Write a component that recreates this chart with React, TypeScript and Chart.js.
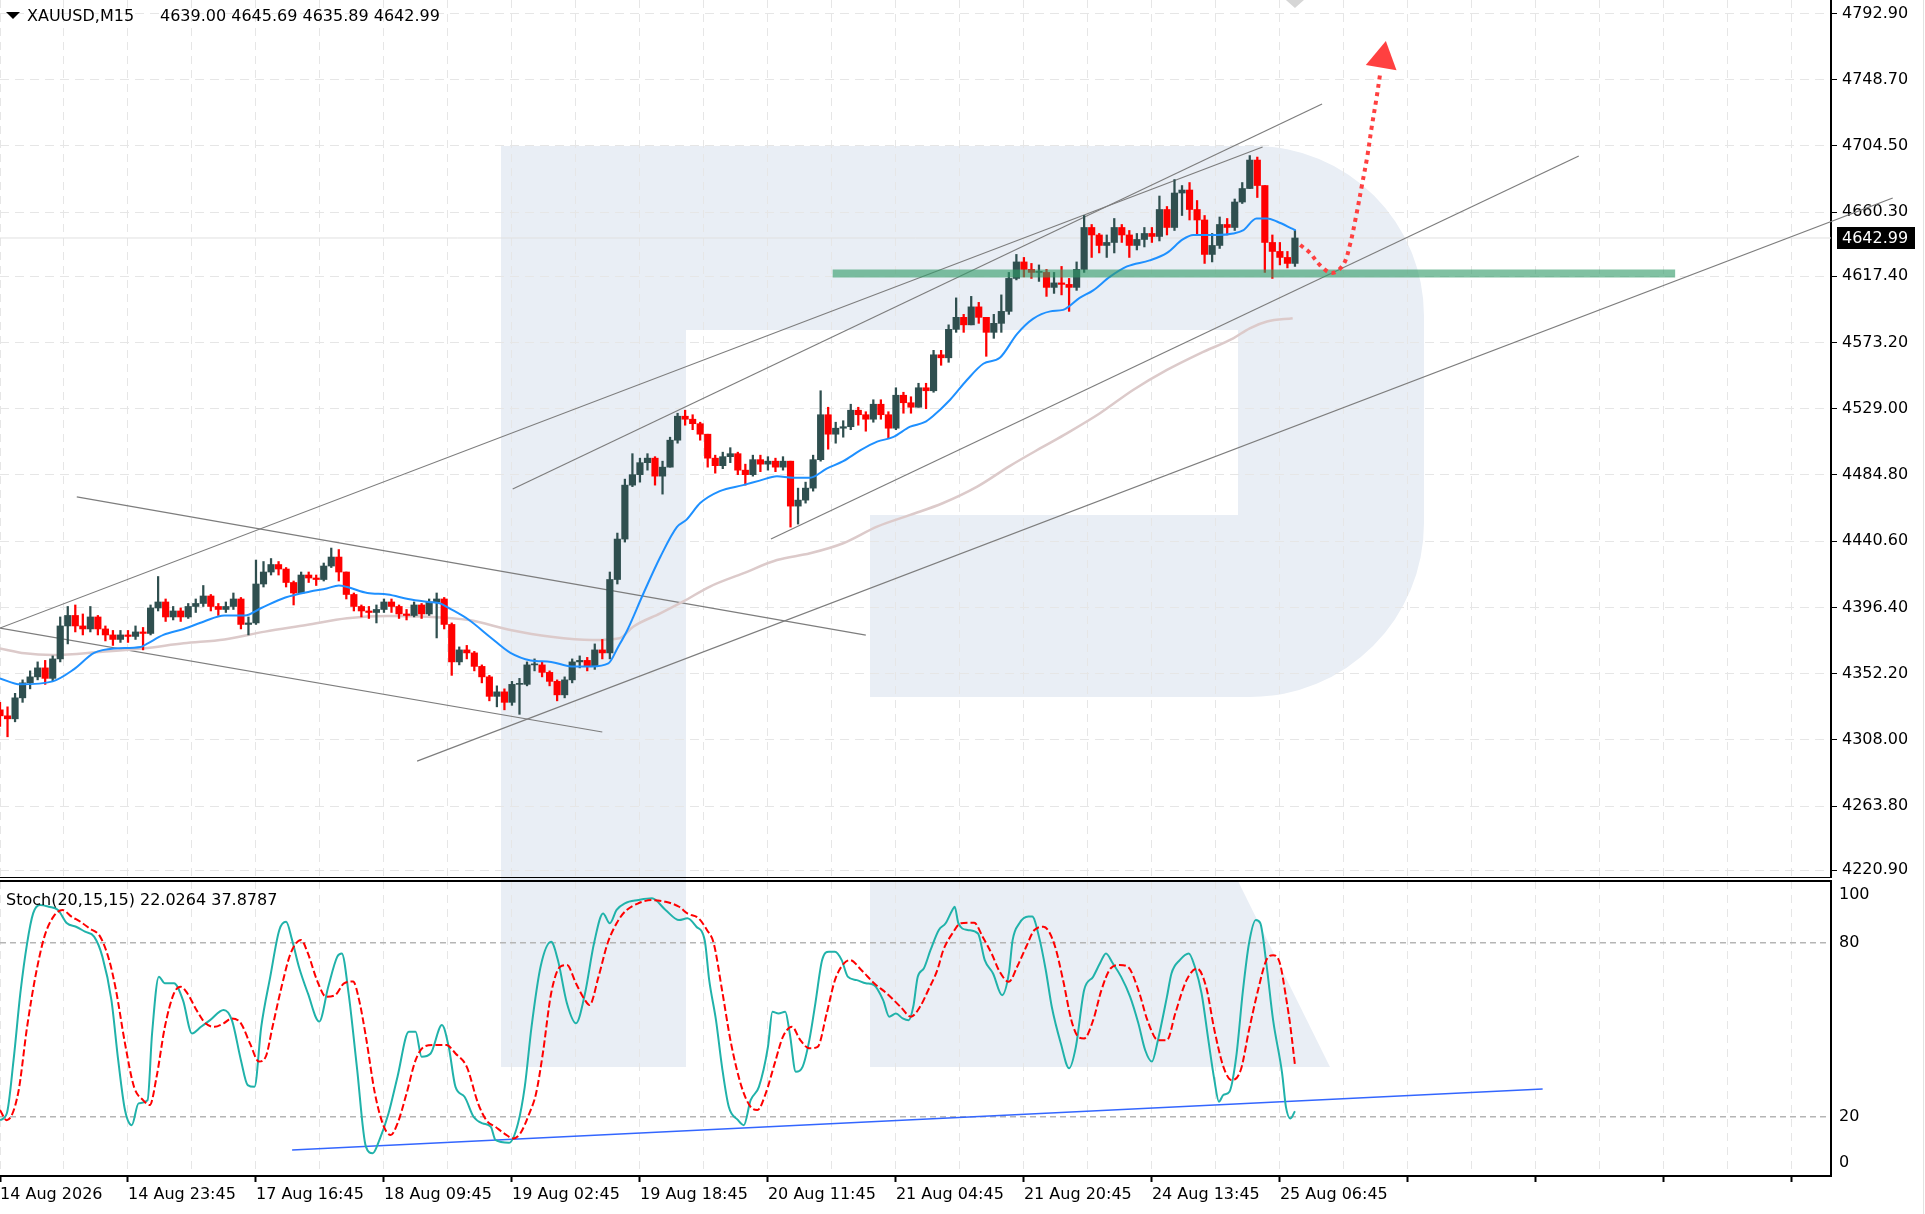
import React, { useEffect, useRef } from "react";
import { Chart, registerables } from "chart.js";

Chart.register(...registerables);

// ---------- data ----------
const xLabels = [
  "14 Aug 2026", "14 Aug 23:45", "17 Aug 16:45", "18 Aug 09:45", "19 Aug 02:45",
  "19 Aug 18:45", "20 Aug 11:45", "21 Aug 04:45", "21 Aug 20:45", "24 Aug 13:45", "25 Aug 06:45",
];
const priceTicks = [4792.9, 4748.7, 4704.5, 4660.3, 4617.4, 4573.2, 4529.0, 4484.8, 4440.6, 4396.4, 4352.2, 4308.0, 4263.8, 4220.9];
const stochTickValues = [4.1, 20, 80, 96.6];
const stochTickLabels = ["0", "20", "80", "100"];

const firstOpen = 4328;
const closes = [
  4324, 4322, 4336, 4346, 4350, 4356, 4349, 4362, 4384, 4391,
  4384, 4382, 4390, 4382, 4378, 4375, 4378, 4377, 4380, 4379,
  4396, 4400, 4390, 4394, 4390, 4397, 4399, 4404, 4397, 4395,
  4397, 4402, 4385, 4386, 4412, 4420, 4425, 4422, 4413, 4406,
  4418, 4416, 4415, 4424, 4430, 4420, 4405, 4397, 4394, 4393,
  4395, 4400, 4397, 4392, 4391, 4398, 4392, 4400, 4402, 4385,
  4360, 4368, 4366, 4357, 4350, 4337, 4340, 4333, 4345, 4345,
  4358, 4358, 4353, 4347, 4338, 4348, 4360, 4361, 4357, 4368,
  4366, 4415, 4442, 4478, 4485, 4493, 4496, 4484, 4490, 4508,
  4524, 4522, 4519, 4512, 4496, 4491, 4497, 4499, 4488, 4485,
  4495, 4492, 4494, 4490, 4494, 4464, 4468, 4476, 4495, 4525,
  4512, 4516, 4517, 4528, 4525, 4522, 4532, 4525, 4516, 4538,
  4533, 4530, 4543, 4541, 4565, 4563, 4582, 4590, 4585, 4597,
  4590, 4580, 4586, 4594, 4616, 4627, 4622, 4620, 4620, 4610,
  4613, 4612, 4610, 4622, 4650, 4645, 4638, 4640, 4650, 4645,
  4638, 4642, 4646, 4644, 4662, 4650, 4673, 4675, 4662, 4655,
  4632, 4638, 4652, 4650, 4667, 4676, 4695, 4678, 4640, 4634,
  4630, 4626, 4642.99,
];
const highs = [
  4333, 4330, 4339, 4348, 4354, 4360, 4361, 4364, 4390, 4397,
  4398, 4392, 4397, 4391, 4384, 4381, 4381, 4381, 4384, 4383,
  4398, 4417, 4402, 4397, 4396, 4399, 4402, 4411, 4405, 4399,
  4400, 4406, 4403, 4390, 4428, 4427, 4429, 4427, 4423, 4414,
  4420, 4420, 4418, 4426, 4436, 4435, 4420, 4406, 4398, 4397,
  4398, 4402, 4402, 4398, 4395, 4400, 4399, 4402, 4406, 4403,
  4386, 4370, 4371, 4367, 4358, 4351, 4344, 4342, 4347, 4349,
  4360, 4362, 4360, 4354, 4348, 4350, 4362, 4364, 4363, 4372,
  4375, 4420, 4446, 4482, 4499, 4496, 4499, 4497, 4494, 4510,
  4526, 4528, 4525, 4520, 4512, 4498, 4500, 4503, 4500, 4492,
  4498, 4498, 4497, 4496, 4497, 4494, 4476, 4480, 4498, 4541,
  4530, 4520, 4521, 4532, 4530, 4527, 4535, 4535, 4527, 4543,
  4540, 4537, 4546, 4546, 4568, 4568, 4585, 4603, 4592, 4604,
  4600, 4590, 4592, 4605, 4620, 4632, 4630, 4626, 4625, 4622,
  4620, 4624, 4616, 4627, 4658, 4652, 4646, 4645, 4656, 4652,
  4648, 4646, 4650, 4650, 4671, 4664, 4682, 4678, 4680, 4668,
  4658, 4646, 4657, 4656, 4669, 4680, 4698, 4697, 4678, 4645,
  4640, 4634, 4648,
];
const lows = [
  4317, 4310, 4320, 4333, 4342, 4348, 4345, 4347, 4360, 4372,
  4380, 4378, 4380, 4378, 4374, 4371, 4373, 4373, 4375, 4368,
  4378, 4394, 4387, 4388, 4387, 4389, 4393, 4397, 4394, 4391,
  4393, 4395, 4382, 4378, 4385, 4410, 4418, 4418, 4410, 4398,
  4406, 4413, 4411, 4414, 4423, 4414, 4402, 4394, 4390, 4389,
  4386, 4393, 4393, 4389, 4388, 4390, 4389, 4391, 4376, 4382,
  4351, 4358, 4362, 4354, 4346, 4334, 4330, 4328, 4331, 4325,
  4344, 4354, 4350, 4344, 4334, 4336, 4346, 4356, 4354, 4355,
  4362, 4362, 4412, 4440, 4477, 4480, 4488, 4478, 4472, 4490,
  4506, 4518, 4515, 4508, 4490, 4486, 4489, 4493, 4485, 4478,
  4484, 4487, 4488, 4487, 4488, 4450, 4452, 4466, 4474, 4494,
  4502, 4506, 4510, 4515, 4518, 4514, 4520, 4522, 4509, 4515,
  4526, 4526, 4530, 4529, 4540, 4558, 4560, 4580, 4580, 4585,
  4586, 4564, 4576, 4580, 4592, 4615, 4617, 4616, 4614, 4604,
  4606, 4605, 4594, 4608, 4620, 4630, 4633, 4630, 4633, 4640,
  4630, 4635, 4637, 4640, 4641, 4645, 4648, 4658, 4655, 4645,
  4626, 4627, 4636, 4645, 4648, 4666, 4676, 4670, 4620, 4616,
  4625, 4623, 4624,
];
const lastPrice = 4642.99;

// moving averages as [bar index, price]
const maFast = [
  [0, 4349], [2.7, 4345], [7, 4347], [9.8, 4355], [12.5, 4366], [15.2, 4369], [18.7, 4370], [19.5, 4372],
  [21.7, 4378], [24.4, 4382], [27.1, 4387], [29.8, 4391], [32.5, 4391], [34.7, 4396], [37.9, 4403], [41.2, 4407],
  [43.4, 4409], [45, 4411], [46.1, 4410], [48.8, 4406], [51.5, 4405], [54.2, 4402], [56.9, 4400], [58.5, 4399],
  [59.6, 4396], [62.3, 4388], [65, 4377], [67.8, 4366], [70.5, 4361], [73.2, 4360], [75.9, 4357], [78.6, 4357],
  [80.8, 4359], [82.1, 4370], [83.3, 4381], [85.4, 4405], [87.7, 4430], [89.9, 4450], [91.2, 4455], [93, 4466],
  [95.6, 4474], [98.7, 4478], [100.9, 4481], [103.2, 4484], [105.3, 4483], [107.6, 4483], [109.8, 4489], [112, 4494],
  [114.2, 4501], [116.5, 4507], [118.6, 4510], [120.9, 4517], [122.8, 4520], [123.9, 4524], [126.2, 4535], [128.4, 4548],
  [130.6, 4559], [132.8, 4563], [135.1, 4579], [137.2, 4589], [139.5, 4594], [141.2, 4595], [143.4, 4603], [145.2, 4608],
  [147.4, 4617], [149.7, 4624], [152.7, 4628], [155, 4633], [157.1, 4642], [158.5, 4645], [161.6, 4645], [163.8, 4646],
  [165.1, 4648], [166.9, 4656], [168.3, 4656], [169.6, 4654], [171.7, 4649], [172.1, 4648],
];
const maSlow = [
  [0, 4369], [3.3, 4365.7], [7, 4364.6], [13.6, 4366.8], [19, 4369], [24.4, 4372.4], [29.8, 4375], [35.2, 4380.2],
  [40.7, 4384.6], [46.1, 4389.1], [51.5, 4390.6], [56.9, 4390.2], [62.3, 4387.9], [67.8, 4381.3], [73.2, 4376.8],
  [78.6, 4374.6], [82.3, 4375.8], [84.1, 4383.5], [87.7, 4392.4], [90.7, 4400.2], [94.3, 4410.3], [98.7, 4419.1],
  [103.2, 4428], [107.6, 4432.5], [112, 4439.2], [116.5, 4450.3], [120.9, 4458.1], [125.2, 4465.9], [129.8, 4477],
  [134.1, 4490.7], [138.5, 4503.5], [141.7, 4512.6], [146.1, 4526], [150.5, 4541.5], [155, 4554.9], [159.4, 4566],
  [163.8, 4576], [166, 4582.7], [168.3, 4587.2], [171.7, 4589.4],
];

// trend lines: [index1, price1, index2, price2]
const trendLines = [
  [0, 4382.6, 167.7, 4703.7],
  [68.1, 4475.4, 175.6, 4732.4],
  [102.4, 4442.0, 209.7, 4697.7],
  [55.4, 4293.8, 251.4, 4669.7],
  [10.2, 4470.1, 115.0, 4377.9],
  [0, 4382.6, 80.0, 4313.2],
];
const supportBandX = [110.6, 222.5];
const supportBandPrice = 4619.2;
const forecastPath = [
  [172.7, 4638.3], [174.0, 4633.0], [175.3, 4625.0], [176.9, 4619.6], [178.4, 4625.0], [179.3, 4638.3],
  [180.1, 4657.0], [180.9, 4678.3], [181.6, 4697.2], [182.2, 4717.2], [182.8, 4735.3], [183.3, 4752.0],
];
const forecastHead = [183.66, 4762.6];

// stochastic (20,15,15): [bar index, value]
const stochMain = [
  [0, 18.9], [0.9, 21.2], [1.8, 39.6], [2.7, 62.6], [3.6, 79.9], [4.4, 90.2], [5.3, 93.1], [6.5, 92.5], [7.7, 91.4],
  [8.9, 86.8], [10.1, 85.6], [11.3, 83.9], [12.5, 82.2], [13.6, 75.3], [14.8, 60.3], [15.7, 39.6], [16.6, 22.4],
  [17.5, 17.2], [18.4, 24.7], [19.6, 25.8], [20.2, 48.8], [21.1, 68.4], [21.9, 66.1], [23.1, 66.1], [24.3, 60.3],
  [25.5, 48.8], [26.7, 51.1], [27.9, 53.4], [29.7, 56.9], [30.8, 53.4], [32.0, 39.6], [32.9, 31.0], [33.8, 30.4],
  [34.7, 51.1], [35.9, 68.4], [37.1, 84.5], [38.0, 87.3], [38.8, 81.0], [39.7, 71.8], [40.9, 62.6], [42.4, 52.9],
  [43.6, 64.9], [44.8, 75.3], [45.4, 76.4], [46.3, 62.6], [47.4, 37.3], [48.6, 9.8], [49.5, 7.5], [50.4, 12.1],
  [51.6, 21.2], [52.8, 33.9], [54.3, 49.4], [55.2, 49.4], [56.0, 40.8], [57.2, 41.9], [58.7, 51.7], [59.6, 44.2],
  [60.5, 30.4], [61.7, 27.0], [62.9, 20.1], [64.1, 17.8], [65.2, 16.6], [65.8, 12.1], [67.6, 11.1], [68.8, 17.8],
  [69.7, 30.4], [70.6, 51.1], [71.8, 71.8], [73.2, 80.4], [74.1, 74.1], [75.3, 59.2], [76.5, 52.3], [77.7, 62.6],
  [78.9, 79.9], [80.1, 90.2], [81.0, 86.8], [81.9, 91.4], [83.0, 93.7], [84.8, 94.8], [86.6, 95.4], [88.4, 91.4],
  [90.2, 87.9], [91.3, 88.5], [92.5, 85.6], [93.6, 81.0], [94.2, 67.2], [95.1, 53.4], [95.9, 37.3], [96.8, 23.5],
  [98.0, 19.0], [98.8, 17.2], [99.7, 25.8], [100.8, 30.4], [102.0, 44.2], [102.6, 56.3], [103.4, 55.7], [104.3, 56.3],
  [104.9, 48.8], [105.7, 35.6], [106.6, 37.3], [107.5, 46.5], [108.3, 59.2], [109.2, 74.1], [110.1, 77.0], [110.9, 77.0],
  [111.8, 74.1], [112.6, 68.4], [113.8, 67.2], [115.0, 66.1], [116.1, 65.5], [117.3, 60.3], [118.1, 54.6], [119.0, 55.7],
  [119.9, 54.0], [120.7, 53.4], [121.3, 58.0], [121.9, 68.4], [122.7, 71.2], [123.6, 77.6], [124.7, 84.5], [125.6, 86.8],
  [126.5, 91.4], [126.8, 92.5], [127.3, 86.8], [128.5, 84.5], [129.9, 83.3], [130.8, 74.1], [131.9, 69.5], [133.1, 62.0],
  [134.0, 69.5], [134.5, 81.0], [135.4, 86.8], [136.6, 89.1], [137.1, 89.1], [138.0, 82.2], [138.9, 70.7], [139.7, 58.0],
  [140.9, 45.4], [142.0, 36.8], [142.9, 44.2], [144.0, 63.8], [145.2, 68.4], [146.1, 73.0], [146.9, 76.4], [147.8, 73.0],
  [148.9, 68.4], [150.1, 61.5], [151.2, 52.3], [152.1, 43.1], [153.0, 39.1], [153.8, 46.5], [155.0, 61.5], [155.6, 69.5],
  [156.7, 74.1], [157.9, 76.4], [158.7, 71.8], [159.6, 62.6], [160.5, 46.5], [161.3, 32.7], [161.9, 25.3], [162.5, 27.6],
  [163.3, 28.7], [164.2, 40.8], [165.1, 63.8], [165.9, 79.9], [166.8, 87.9], [167.4, 86.8], [168.2, 73.0], [169.1, 53.4],
  [170.3, 35.0], [170.8, 23.5], [171.4, 19.5], [172.0, 22.0],
];
const stochSignal = [
  [0, 22.4], [0.9, 18.9], [2.4, 28.1], [3.6, 51.1], [4.7, 68.4], [5.9, 82.2], [7.1, 89.1], [8.3, 91.4], [9.5, 89.1],
  [10.7, 87.3], [11.9, 85.0], [13.3, 82.2], [14.5, 74.1], [15.4, 63.8], [16.6, 45.4], [17.8, 30.4], [19.0, 25.8],
  [19.9, 24.1], [20.8, 33.9], [21.9, 51.1], [23.1, 62.6], [24.0, 64.9], [24.9, 62.6], [26.1, 56.9], [27.3, 52.3],
  [28.5, 51.1], [29.7, 52.3], [30.8, 54.0], [32.0, 52.3], [33.2, 45.4], [34.4, 39.1], [35.3, 40.8], [36.2, 51.1],
  [37.4, 64.9], [38.6, 76.4], [40.0, 81.0], [40.9, 76.4], [42.1, 67.2], [43.3, 61.5], [44.5, 62.0], [45.7, 66.1],
  [46.9, 66.7], [47.7, 60.3], [48.6, 47.7], [49.8, 28.1], [51.0, 16.6], [51.9, 13.8], [52.8, 17.8], [54.0, 28.1],
  [55.2, 39.6], [56.3, 44.2], [57.5, 44.8], [59.3, 44.8], [60.5, 41.9], [62.0, 37.3], [63.5, 24.7], [64.6, 18.9],
  [65.8, 16.6], [67.0, 14.3], [68.2, 12.6], [69.1, 14.3], [70.3, 21.2], [71.2, 28.1], [72.1, 41.9], [73.2, 62.6],
  [74.4, 71.8], [75.3, 72.4], [76.5, 66.1], [77.7, 60.3], [78.3, 58.6], [79.5, 68.4], [80.7, 79.9], [81.9, 86.8],
  [83.0, 90.8], [84.8, 93.7], [86.6, 94.8], [88.4, 94.2], [90.2, 92.5], [91.3, 90.2], [92.8, 88.5], [93.9, 84.5],
  [94.8, 79.9], [95.9, 63.8], [97.1, 45.4], [98.5, 30.4], [99.7, 23.5], [100.6, 22.4], [101.7, 28.1], [102.9, 38.5],
  [104.0, 47.7], [105.2, 51.1], [106.3, 46.5], [107.5, 43.7], [108.6, 44.2], [109.8, 55.7], [110.9, 67.2], [112.1, 73.0],
  [112.9, 74.1], [114.4, 70.7], [116.1, 66.1], [117.8, 62.6], [119.6, 58.0], [121.0, 54.6], [122.2, 58.0], [123.3, 63.8],
  [124.5, 70.7], [125.3, 77.6], [126.5, 83.3], [127.6, 86.8], [129.4, 87.0], [130.5, 82.2], [131.7, 76.4], [132.8, 70.0],
  [134.0, 66.6], [135.1, 71.8], [136.3, 78.7], [137.4, 84.5], [138.6, 85.6], [140.0, 79.9], [141.2, 67.2], [142.3, 53.4],
  [143.2, 47.7], [144.0, 47.1], [145.2, 53.4], [146.3, 63.8], [147.5, 71.2], [148.7, 72.4], [149.8, 71.8], [151.2, 63.8],
  [152.4, 53.4], [153.8, 46.5], [155.0, 46.5], [156.1, 55.7], [157.6, 67.2], [159.0, 71.2], [160.2, 64.9], [161.3, 50.0],
  [162.5, 37.3], [163.6, 32.7], [164.8, 36.2], [165.9, 50.0], [167.1, 63.8], [168.2, 74.1], [169.1, 75.8], [170.0, 73.0],
  [170.8, 61.5], [171.4, 51.1], [172.0, 37.9],
];
const stochTrend = [[38.8, 8.6], [204.9, 29.7]];

// ---------- layout / style ----------
const W = 1925;
const MAIN_H = 878;
const STOCH_TOP = 879;
const STOCH_H = 1214 - STOCH_TOP;
const AXIS_W = 94;
const X_MAX = 243.2;
const GRID_STEP = 8.5;
const BARS_PER_LABEL = 17;
const PRICE_MAX = 4801.85;
const PRICE_MIN = 4215.74;
const STOCH_MIN = -0.34;
const STOCH_MAX = 101.38;
const FONT = '"DejaVu Sans", sans-serif';
const GRID = "#e6e6e6";
const BULL = "#2f4f4f";
const BEAR = "#ff0000";

const pts = (arr: number[][]) => arr.map(([x, y]) => ({ x, y }));

export default function App() {
  const mainRef = useRef<HTMLCanvasElement>(null);
  const stochRef = useRef<HTMLCanvasElement>(null);

  useEffect(() => {
    document.body.style.margin = "0";
    Chart.defaults.font.family = FONT;
    Chart.defaults.font.size = 16;
    Chart.defaults.color = "#000";

    const opens = closes.map((c, i) => (i === 0 ? firstOpen : closes[i - 1]));
    const colors = closes.map((c, i) => (c >= opens[i] ? BULL : BEAR));
    const bodies = closes.map((c, i) => ({ x: i, y: [opens[i], c] }));
    const wicks = closes.map((c, i) => ({ x: i, y: [lows[i], highs[i]] }));
    const xTicks: number[] = [];
    for (let v = 0; v <= X_MAX; v += GRID_STEP) xTicks.push(v);
    const isLabelTick = (v: number) => v % BARS_PER_LABEL === 0;

    const mainPlugin = {
      id: "mainDecor",
      afterDraw(chart: any) {
        const { ctx, scales } = chart;
        const y = Math.round(scales.y.getPixelForValue(lastPrice));
        const left = scales.y.left;
        ctx.save();
        ctx.fillStyle = "#000";
        ctx.fillRect(left + 6, y - 11, 78, 22);
        ctx.fillStyle = "#fff";
        ctx.font = `16px ${FONT}`;
        ctx.textAlign = "left";
        ctx.textBaseline = "middle";
        ctx.fillText(lastPrice.toFixed(2), left + 11, y + 1);
        const sx = scales.x.getPixelForValue(closes.length - 1);
        ctx.fillStyle = "#d6d6d6";
        ctx.beginPath();
        ctx.moveTo(sx - 9, 0);
        ctx.lineTo(sx + 9, 0);
        ctx.lineTo(sx, 8);
        ctx.closePath();
        ctx.fill();
        ctx.restore();
      },
    };

    const stochPlugin = {
      id: "stochDecor",
      afterDraw(chart: any) {
        const { ctx, chartArea } = chart;
        ctx.save();
        ctx.fillStyle = "#000";
        ctx.fillRect(0, chartArea.top - 1, chartArea.right + 1, 2);
        ctx.restore();
      },
    };

    const line = (data: any[], extra: any) => ({
      type: "line",
      data,
      pointRadius: 0,
      fill: false,
      tension: 0,
      ...extra,
    });

    const main = new Chart(mainRef.current as HTMLCanvasElement, {
      type: "bar",
      data: {
        datasets: [
          line([{ x: 0, y: lastPrice }, { x: X_MAX, y: lastPrice }], { borderColor: "#e0e0e0", borderWidth: 1, order: 12 }),
          ...trendLines.map(([x1, p1, x2, p2]) =>
            line([{ x: x1, y: p1 }, { x: x2, y: p2 }], { borderColor: "#7d7d7d", borderWidth: 1.2, clip: false, order: 10 })
          ),
          line(pts(maSlow), { borderColor: "#dccaca", borderWidth: 2.5, cubicInterpolationMode: "monotone", order: 9 }),
          {
            type: "bar",
            data: wicks,
            backgroundColor: colors,
            barThickness: 1.6,
            grouped: false,
            borderWidth: 0,
            order: 8,
          },
          {
            type: "bar",
            data: bodies,
            backgroundColor: colors,
            barThickness: 6.5,
            grouped: false,
            borderWidth: 0,
            minBarLength: 1,
            order: 7,
          },
          line(pts(maFast), { borderColor: "#1e90ff", borderWidth: 2, cubicInterpolationMode: "monotone", order: 6 }),
          line(
            [{ x: supportBandX[0], y: supportBandPrice }, { x: supportBandX[1], y: supportBandPrice }],
            { borderColor: "rgba(50,155,105,0.62)", borderWidth: 8, borderCapStyle: "butt", order: 5 }
          ),
          line(pts(forecastPath), {
            borderColor: "#ff4040",
            borderWidth: 4,
            borderDash: [4, 4.5],
            borderCapStyle: "butt",
            tension: 0.35,
            order: 4,
          }),
          line([{ x: forecastHead[0], y: forecastHead[1] }], {
            showLine: false,
            pointRadius: 18,
            pointStyle: "triangle",
            pointRotation: 10,
            pointBackgroundColor: "#ff4040",
            pointBorderWidth: 0,
            order: 3,
          }),
        ],
      },
      options: {
        animation: false,
        responsive: false,
        devicePixelRatio: 1,
        events: [],
        layout: { padding: 0, autoPadding: false },
        plugins: { legend: { display: false }, tooltip: { enabled: false } },
        scales: {
          x: {
            type: "linear",
            min: 0,
            max: X_MAX,
            offset: false,
            bounds: "data",
            afterBuildTicks: (s: any) => {
              s.ticks = xTicks.map((v) => ({ value: v }));
            },
            afterFit: (s: any) => {
              s.height = 0;
              s.paddingLeft = 0;
              s.paddingRight = 0;
            },
            ticks: { display: false },
            grid: { color: GRID, drawTicks: false, offset: false, lineWidth: 1 },
            border: { display: true, color: "#000", width: 2, dash: [8, 6] },
          },
          y: {
            type: "linear",
            position: "right",
            min: PRICE_MIN,
            max: PRICE_MAX,
            bounds: "data",
            afterBuildTicks: (s: any) => {
              s.ticks = priceTicks.map((v) => ({ value: v }));
            },
            afterFit: (s: any) => {
              s.width = AXIS_W;
              s.paddingTop = 0;
              s.paddingBottom = 0;
            },
            ticks: {
              autoSkip: false,
              padding: 5,
              color: "#000",
              font: { size: 16, family: FONT },
              callback: (v: any) => Number(v).toFixed(2),
            },
            grid: { color: GRID, tickColor: "#000", tickLength: 6, drawTicks: true, tickBorderDash: [], lineWidth: 1 },
            border: { display: true, color: "#000", width: 2, dash: [9, 6] },
          },
        },
      },
      plugins: [mainPlugin],
    } as any);

    const stoch = new Chart(stochRef.current as HTMLCanvasElement, {
      type: "line",
      data: {
        datasets: [
          line(pts(stochSignal), {
            borderColor: "#ff0000",
            borderWidth: 2,
            borderDash: [7, 3],
            cubicInterpolationMode: "monotone",
            order: 0,
          }),
          line(pts(stochMain), { borderColor: "#20b2aa", borderWidth: 2, cubicInterpolationMode: "monotone", order: 1 }),
          line(pts(stochTrend), { borderColor: "#3366ff", borderWidth: 1.5, order: 2 }),
        ],
      },
      options: {
        animation: false,
        responsive: false,
        devicePixelRatio: 1,
        events: [],
        layout: { padding: { top: 2, left: 0, right: 0, bottom: 0 }, autoPadding: false },
        plugins: { legend: { display: false }, tooltip: { enabled: false } },
        scales: {
          x: {
            type: "linear",
            min: 0,
            max: X_MAX,
            offset: false,
            bounds: "data",
            afterBuildTicks: (s: any) => {
              s.ticks = xTicks.map((v) => ({ value: v }));
            },
            afterFit: (s: any) => {
              s.height = STOCH_H - 297;
              s.paddingLeft = 0;
              s.paddingRight = 0;
            },
            ticks: {
              autoSkip: false,
              maxRotation: 0,
              minRotation: 0,
              align: "start",
              padding: 3,
              color: "#000",
              font: { size: 16, family: FONT },
              callback: (v: any) => (isLabelTick(Number(v)) ? xLabels[Number(v) / BARS_PER_LABEL] || "" : ""),
            },
            grid: {
              color: GRID,
              drawTicks: true,
              tickLength: 6,
              tickBorderDash: [],
              tickWidth: 2,
              tickColor: (c: any) => (c.tick && isLabelTick(c.tick.value) ? "#000" : "rgba(0,0,0,0)"),
              offset: false,
            },
            border: { display: true, color: "#000", width: 2, dash: [8, 6] },
          },
          y: {
            type: "linear",
            position: "right",
            min: STOCH_MIN,
            max: STOCH_MAX,
            bounds: "data",
            afterBuildTicks: (s: any) => {
              s.ticks = stochTickValues.map((v) => ({ value: v }));
            },
            afterFit: (s: any) => {
              s.width = AXIS_W;
              s.paddingTop = 0;
              s.paddingBottom = 0;
            },
            ticks: {
              autoSkip: false,
              padding: 8,
              color: "#000",
              font: { size: 16, family: FONT },
              callback: (_v: any, i: number) => stochTickLabels[i],
            },
            grid: {
              drawTicks: false,
              lineWidth: 1.5,
              color: (c: any) =>
                c.tick && (c.tick.value === 20 || c.tick.value === 80) ? "#b5b5b5" : "rgba(0,0,0,0)",
            },
            border: { display: true, color: "#000", width: 2, dash: [6, 4] },
          },
        },
      },
      plugins: [stochPlugin],
    } as any);

    return () => {
      main.destroy();
      stoch.destroy();
    };
  }, []);

  const wm = "#e9eef5";
  return (
    <div
      style={{
        position: "relative",
        width: W,
        height: 1214,
        background: "#fff",
        overflow: "hidden",
        fontFamily: FONT,
      }}
    >
      <svg width={W} height={1214} style={{ position: "absolute", left: 0, top: 0 }}>
        <path
          fillRule="evenodd"
          fill={wm}
          d="M501 146 H1254 A170 170 0 0 1 1424 316 V523 A174 174 0 0 1 1250 697 H501 Z M686 330 H1238 V515 H870 V697 H686 Z"
        />
        <rect x={501} y={696} width={185} height={371} fill={wm} />
        <path fill={wm} d="M870 881 H1238 L1330 1067 H870 Z" />
      </svg>
      <canvas
        ref={mainRef}
        width={W}
        height={MAIN_H}
        style={{ position: "absolute", left: 0, top: 0, width: W, height: MAIN_H, display: "block" }}
      />
      <canvas
        ref={stochRef}
        width={W}
        height={STOCH_H}
        style={{ position: "absolute", left: 0, top: STOCH_TOP, width: W, height: STOCH_H, display: "block" }}
      />
      <div style={{ position: "absolute", left: 1923, top: 0, width: 1, height: 1214, background: "#e2e2e2" }} />
      <div
        style={{
          position: "absolute",
          left: 6,
          top: 12,
          width: 0,
          height: 0,
          borderLeft: "7px solid transparent",
          borderRight: "7px solid transparent",
          borderTop: "7px solid #000",
        }}
      />
      <div style={{ position: "absolute", left: 27, top: 6, fontSize: 16, color: "#000", whiteSpace: "pre", lineHeight: "19px" }}>
        XAUUSD,M15
      </div>
      <div style={{ position: "absolute", left: 160, top: 6, fontSize: 16, color: "#000", whiteSpace: "pre", lineHeight: "19px" }}>
        4639.00 4645.69 4635.89 4642.99
      </div>
      <div style={{ position: "absolute", left: 6, top: 890, fontSize: 16, color: "#000", whiteSpace: "pre", lineHeight: "19px" }}>
        Stoch(20,15,15) 22.0264 37.8787
      </div>
    </div>
  );
}
